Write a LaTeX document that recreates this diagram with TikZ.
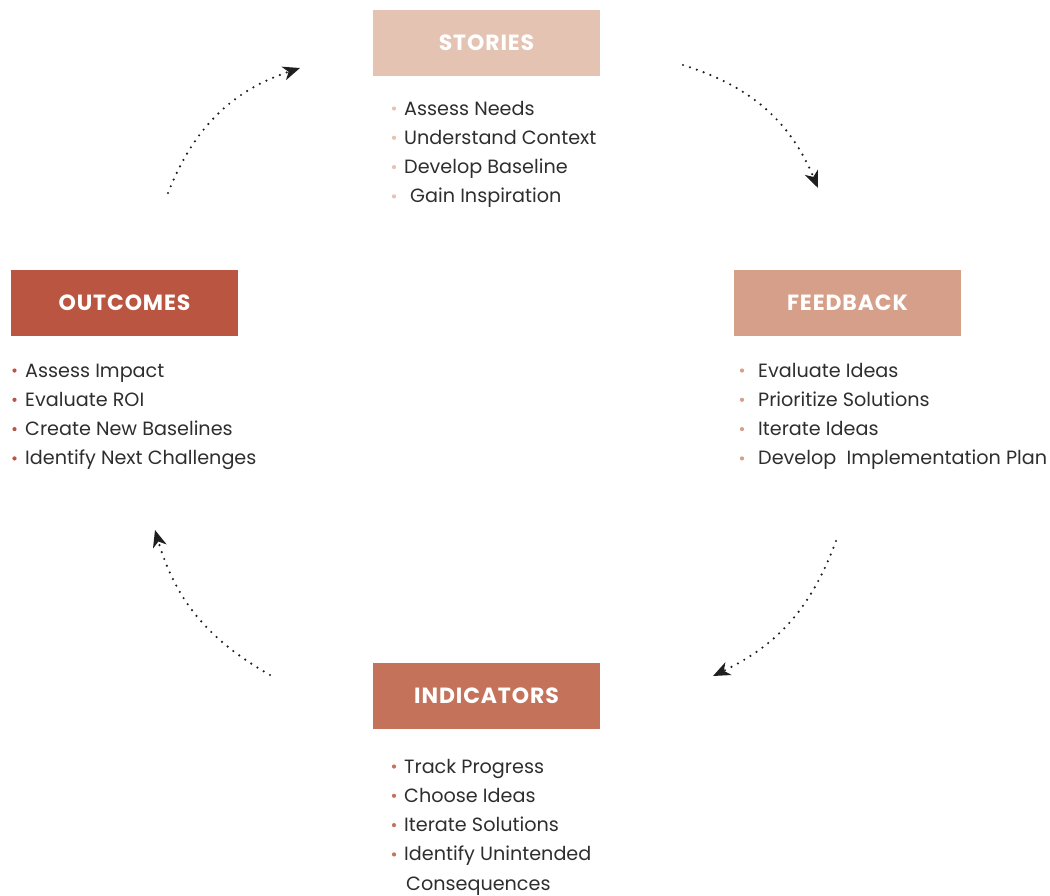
\documentclass[tikz,border=0pt]{standalone}
\usepackage{fontspec}
\setmainfont{Poppins}
\usetikzlibrary{arrows.meta}
\definecolor{cStories}{HTML}{E4C3B3}
\definecolor{cFeedback}{HTML}{D69F89}
\definecolor{cOutcomes}{HTML}{B95540}
\definecolor{cIndicators}{HTML}{C4735A}
\definecolor{txt}{HTML}{2E2E2E}
\begin{document}
\begin{tikzpicture}[x=1pt,y=-1pt,
 header/.style={fill=#1, minimum width=227pt, minimum height=66pt, inner sep=0pt, text=white,
   font=\fontsize{22}{22}\selectfont\bfseries\addfontfeatures{LetterSpace=4}},
 item/.style={anchor=base west, inner sep=0pt, text=txt, font=\fontsize{19.2}{19.2}\selectfont},
 bul/.style={circle, fill=#1, inner sep=0pt, minimum size=4.2pt},
 cyc/.style={line width=2.4pt, line cap=round, dash pattern=on 0pt off 7.3pt,
   -{Stealth[length=17pt,width=14pt,inset=5pt]}, black!88}
]
\useasboundingbox (0,0) rectangle (1050,895);
% headers
\node[header=cStories]    (stories)    at (486.5,43)  {STORIES};
\node[header=cFeedback]   (feedback)   at (847.5,303) {FEEDBACK};
\node[header=cOutcomes]   (outcomes)   at (124.5,303) {OUTCOMES};
\node[header=cIndicators] (indicators) at (486.5,696) {INDICATORS};
% stories list
\foreach \t/\x/\y [count=\i] in {Assess Needs/404/115, Understand Context/404/144.3, Develop Baseline/404/173.6, Gain Inspiration/410/202.9}{
  \node[bul=cStories] (sb\i) at (394,\y-6.5) {};
  \node[item] (st\i) at (\x,\y) {\t};
}
% feedback list
\foreach \t/\y [count=\i] in {Evaluate Ideas/377, Prioritize Solutions/406.3, Iterate Ideas/435.6, Develop\ \ Implementation Plan/464.9}{
  \node[bul=cFeedback] (fb\i) at (742,\y-6.5) {};
  \node[item] (ft\i) at (758,\y) {\t};
}
% outcomes list
\foreach \t/\y [count=\i] in {Assess Impact/377, Evaluate ROI/406.3, Create New Baselines/435.6, Identify Next Challenges/464.9}{
  \node[bul=cOutcomes] (ob\i) at (14.5,\y-6.5) {};
  \node[item] (ot\i) at (25,\y) {\t};
}
% indicators list
\foreach \t/\y [count=\i] in {Track Progress/773, Choose Ideas/802.3, Iterate Solutions/831.6, Identify Unintended/860.9}{
  \node[bul=cIndicators] (ib\i) at (394,\y-6.5) {};
  \node[item] (it\i) at (404,\y) {\t};
}
\node[item] (it5) at (406,890.2) {Consequences};
% cycle arrows
\coordinate (a1s) at (683,65);   \coordinate (a1e) at (818,188);
\coordinate (a2s) at (836,541);  \coordinate (a2e) at (713,676);
\coordinate (a3s) at (270,675);  \coordinate (a3e) at (155,530);
\coordinate (a4s) at (168,193);  \coordinate (a4e) at (300,68);
\draw[cyc] (a1s) to[bend left=25] (a1e);
\draw[cyc] (a2s) to[bend left=22] (a2e);
\draw[cyc] (a3s) to[bend left=22] (a3e);
\draw[cyc] (a4s) to[bend left=25] (a4e);
\end{tikzpicture}
\end{document}
